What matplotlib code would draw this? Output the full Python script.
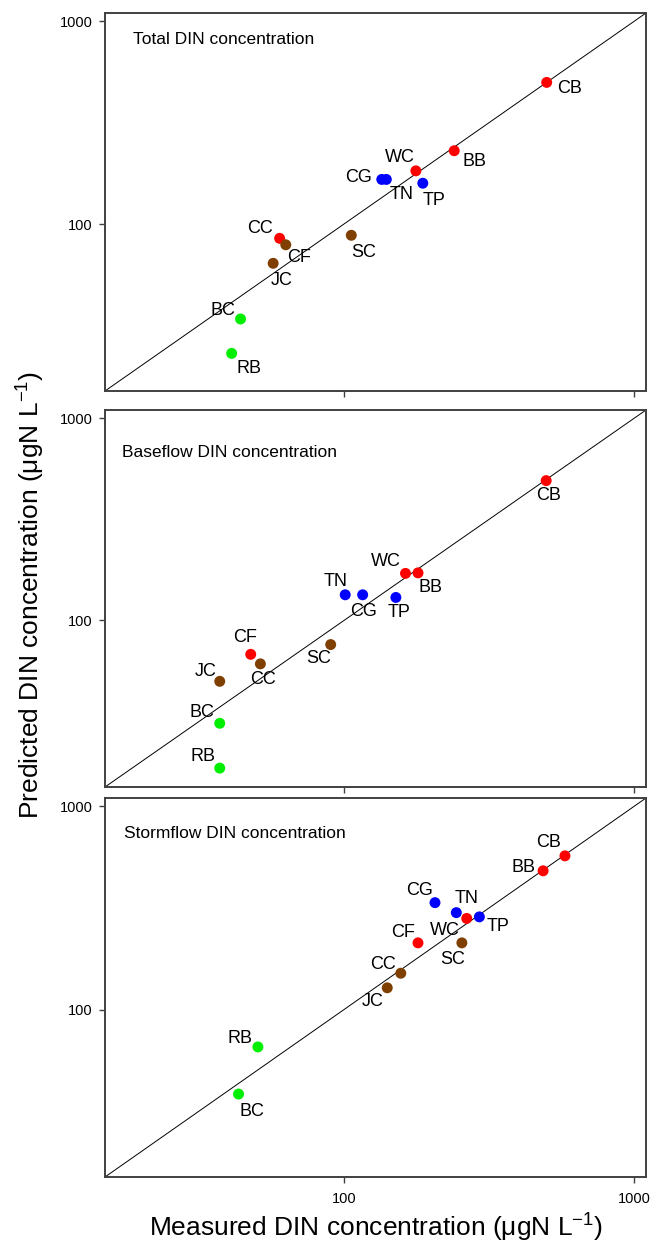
"""
Measured vs predicted DIN concentration, three log-log panels with 1:1 line.
"""

import numpy as np
import matplotlib
matplotlib.use("Agg")
import matplotlib.pyplot as plt
from matplotlib.ticker import FixedLocator, NullLocator, FixedFormatter

plt.rcParams["font.family"] = ["Liberation Sans", "DejaVu Sans"]
plt.rcParams["mathtext.fontset"] = "custom"
plt.rcParams["mathtext.rm"] = "Liberation Sans"
plt.rcParams["mathtext.it"] = "Liberation Sans:italic"

RED = "#FF0000"
BLUE = "#0000FF"
BROWN = "#7F3F00"
GREEN = "#00EE00"

# ---- data ----
titles = ["Total DIN concentration",
          "Baseflow DIN concentration",
          "Stormflow DIN concentration"]

sites = ["CB", "BB", "WC", "CG", "TN", "TP", "CC", "CF", "JC", "SC", "BC", "RB"]

total_measured = [500, 240, 177, 135, 140, 187, 60, 63, 57, 106, 44, 41]
total_predicted = [500, 230, 183, 166, 166, 159, 85, 79, 64, 88, 34, 23]
total_colors = [RED, RED, RED, BLUE, BLUE, BLUE, RED, BROWN, BROWN, BROWN, GREEN, GREEN]

base_measured = [498, 180, 163, 116, 101, 151, 51.5, 47.7, 37.3, 90, 37.3, 37.3]
base_predicted = [492, 172, 171, 134, 134, 130, 61, 68, 50, 76, 31, 18.6]
base_colors = [RED, RED, RED, BLUE, BLUE, BLUE, BROWN, RED, BROWN, BROWN, GREEN, GREEN]

storm_measured = [578, 486, 265, 206, 244, 293, 157, 180, 141, 255, 43.3, 50.5]
storm_predicted = [571, 482, 281, 336, 300, 286, 151, 213, 128, 213, 38.4, 65.5]
storm_colors = [RED, RED, RED, BLUE, BLUE, BLUE, BROWN, RED, BROWN, BROWN, GREEN, GREEN]

ticks = [100, 1000]
tick_labels = ["100", "1000"]
axis_lim = (15, 1100)

# label offsets in pixels (dx, dy), same site order
total_offsets = [(23, -6), (20, -11), (-16, 13), (-23, 2), (15, -15), (11, -17),
                 (-20, 10), (13, -13), (8, -17), (12, -17), (-18, 8), (17, -15)]
base_offsets = [(2, -15), (13, -15), (-20, 12), (1, -17), (-10, 13), (3, -15),
                (3, -16), (-6, 17), (-14, 10), (-12, -14), (-18, 11), (-17, 12)]
storm_offsets = [(-16, 13), (-20, 3), (-22, -12), (-15, 12), (10, 14), (19, -10),
                 (-18, 9), (-15, 10), (-15, -14), (-9, -17), (13, -17), (-18, 8)]

W, H = 654, 1243
left_px, right_px = 105, 646
panel_px = [(13, 391), (410, 787), (798, 1177)]
title_pos = [(0.052, 0.931), (0.031, 0.886), (0.035, 0.907)]


def draw_panel(ax, measured, predicted, colors, offsets, title, tpos, show_xlabels):
    ax.set_xscale("log")
    ax.set_yscale("log")
    ax.set_xlim(*axis_lim)
    ax.set_ylim(*axis_lim)

    ax.plot(axis_lim, axis_lim, color="black", linewidth=0.7, zorder=1)
    ax.scatter(measured, predicted, s=62, c=colors, edgecolors="none", zorder=3)

    for name, x, y, off in zip(sites, measured, predicted, offsets):
        ax.annotate(name, (x, y), xytext=off, textcoords="offset pixels",
                    ha="center", va="center", fontsize=13, color="black", zorder=2)

    ax.text(tpos[0], tpos[1], title, transform=ax.transAxes, fontsize=12.5,
            ha="left", va="center")

    for axis in (ax.xaxis, ax.yaxis):
        axis.set_major_locator(FixedLocator(ticks))
        axis.set_minor_locator(NullLocator())
    ax.yaxis.set_major_formatter(FixedFormatter(tick_labels))
    if show_xlabels:
        ax.xaxis.set_major_formatter(FixedFormatter(tick_labels))
    else:
        ax.xaxis.set_major_formatter(FixedFormatter(["", ""]))

    ax.tick_params(direction="out", length=4, width=1, labelsize=10.5,
                   color="#404040", pad=5, top=False, right=False)
    ax.tick_params(axis="x", pad=7)
    for sp in ax.spines.values():
        sp.set_color("#404040")
        sp.set_linewidth(1.4)


def main():
    fig = plt.figure(figsize=(W / 100, H / 100), dpi=100)

    panels = [
        (total_measured, total_predicted, total_colors, total_offsets),
        (base_measured, base_predicted, base_colors, base_offsets),
        (storm_measured, storm_predicted, storm_colors, storm_offsets),
    ]
    for i, (meas, pred, cols, offs) in enumerate(panels):
        top, bot = panel_px[i]
        rect = [left_px / W, 1 - bot / H, (right_px - left_px) / W, (bot - top) / H]
        ax = fig.add_axes(rect)
        draw_panel(ax, meas, pred, cols, offs, titles[i], title_pos[i], i == 2)

    fig.text(0.047, 1 - 595 / H, r"Predicted DIN concentration (μgN L$^{-1}$)",
             rotation=90, ha="center", va="center", fontsize=19)
    fig.text((left_px + right_px) / 2 / W, 1 - 1228 / H,
             r"Measured DIN concentration (μgN L$^{-1}$)",
             ha="center", va="center", fontsize=19)

    fig.savefig("out.png", dpi=100)


if __name__ == "__main__":
    main()
